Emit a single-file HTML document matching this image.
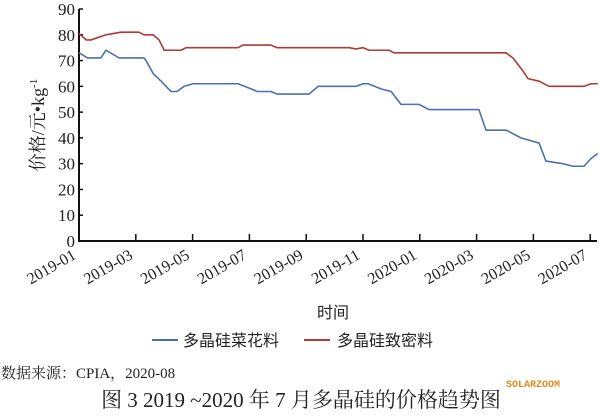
<!DOCTYPE html>
<html><head><meta charset="utf-8"><style>
html,body{margin:0;padding:0;background:#fff;}
body{width:600px;height:413px;overflow:hidden;}
text{font-family:"Liberation Serif","Noto Serif CJK SC",serif;}
</style></head><body>
<svg id="chart" width="600" height="413" viewBox="0 0 600 413" xmlns="http://www.w3.org/2000/svg">
<g id="grid"></g>
<g id="axes"></g>
<g id="series"></g>
<text transform="translate(44,125) rotate(-90)" text-anchor="middle" font-size="18" fill="#222">价格/元•kg<tspan dy="-7" font-size="11">-1</tspan></text>
<text x="333" y="318" text-anchor="middle" font-size="16" fill="#222" style="font-family:'Noto Sans CJK SC',sans-serif">时间</text>
<g>
<g><line x1="152" y1="340" x2="178" y2="340" stroke="#4a72b0" stroke-width="2"/><text x="183" y="346" font-size="16" fill="#222" style="font-family:'Noto Sans CJK SC',sans-serif">多晶硅菜花料</text></g>
<g><line x1="304" y1="340" x2="330" y2="340" stroke="#b03a3a" stroke-width="2"/><text x="337" y="346" font-size="16" fill="#222" style="font-family:'Noto Sans CJK SC',sans-serif">多晶硅致密料</text></g>
</g>
<text x="1" y="378" font-size="15" fill="#222">数据来源：CPIA，2020-08</text>
<text x="506" y="387" font-size="10" font-weight="bold" fill="#e08a1a" style="font-family:'Liberation Mono',monospace">SOLARZOOM</text>
<text x="301" y="407" text-anchor="middle" font-size="21" fill="#222">图 3  2019 ~2020 年 7 月多晶硅的价格趋势图</text>
</svg>
<script>
const yTicks=[0,10,20,30,40,50,60,70,80,90];
const xTickLabels=["2019-01","2019-03","2019-05","2019-07","2019-09","2019-11","2020-01","2020-03","2020-05","2020-07"];
const xTickMonths=[0,2,4,6,8,10,12,14,16,18];
const blueMonths=[0,0.3,0.77,0.95,1.41,2.29,2.36,2.61,2.89,3.24,3.45,3.7,4.01,5.6,6.06,6.27,6.76,6.97,8.1,8.42,9.75,10.0,10.18,10.63,10.99,11.34,11.97,12.32,14.08,14.33,15.04,15.56,16.2,16.44,17.04,17.39,17.78,18.03,18.27];
const blueValues=[73,71,71,74,71,71,70,65,62,58,58,60,61,61,59,58,58,57,57,60,60,61,61,59,58,53,53,51,51,43,43,40,38,31,30,29,29,32,34];
const redMonths=[0,0.25,0.42,0.95,1.48,2.11,2.29,2.61,2.82,3.0,3.59,3.77,5.6,5.77,6.76,6.97,9.51,9.75,10.0,10.21,10.92,11.09,15.04,15.28,15.63,15.81,16.2,16.55,17.78,18.03,18.27];
const redValues=[80.5,78,78,80,81,81,80,80,78,74,74,75,75,76,76,75,75,74.5,75,74,74,73,73,71,66,63,62,60,60,61,61];
const NS="http://www.w3.org/2000/svg";
const X0=79,XM=28.4,Y0=241,YS=232/90;
const xs=m=>X0+m*XM, ys=v=>Y0-v*YS;
const axes=document.getElementById('axes'), series=document.getElementById('series');
function mk(tag,attrs,parent){const e=document.createElementNS(NS,tag);for(const k in attrs)e.setAttribute(k,attrs[k]);parent.appendChild(e);return e;}
let l=mk('line',{x1:X0,y1:ys(90),x2:X0,y2:Y0,stroke:'#111','stroke-width':2},axes);


l=mk('line',{x1:X0-1,y1:Y0,x2:597,y2:Y0,stroke:'#111','stroke-width':2},axes);


yTicks.forEach(v=>{
 const t=mk('text',{x:X0-4,y:ys(v)+6,'text-anchor':'end','font-size':'17',fill:'#222'},axes);
 t.textContent=v;
 
 
 const k=mk('line',{x1:X0,y1:ys(v),x2:X0+4,y2:ys(v),stroke:'#111','stroke-width':1.5},axes);
 
 
});
xTickMonths.forEach((m,i)=>{
 const x=xs(m);
 if(i>0){const k=mk('line',{x1:x,y1:Y0,x2:x,y2:Y0-7,stroke:'#111','stroke-width':1.5},axes);
 
 }
 const t=mk('text',{transform:`translate(${x-2},${Y0+17}) rotate(-30)`,'text-anchor':'end','font-size':'16',fill:'#222'},axes);
 t.textContent=xTickLabels[i];
 
 
});
function line(ms,vs,color,name){
 const p=mk('polyline',{points:ms.map((m,i)=>xs(m)+','+ys(vs[i])).join(' '),fill:'none',stroke:color,'stroke-width':1.6,'stroke-linejoin':'round'},series);
 
 
}
line(redMonths,redValues,'#b03a3a','dense-polysilicon-line');
line(blueMonths,blueValues,'#4a72b0','cauliflower-polysilicon-line');
</script>
</body></html>
